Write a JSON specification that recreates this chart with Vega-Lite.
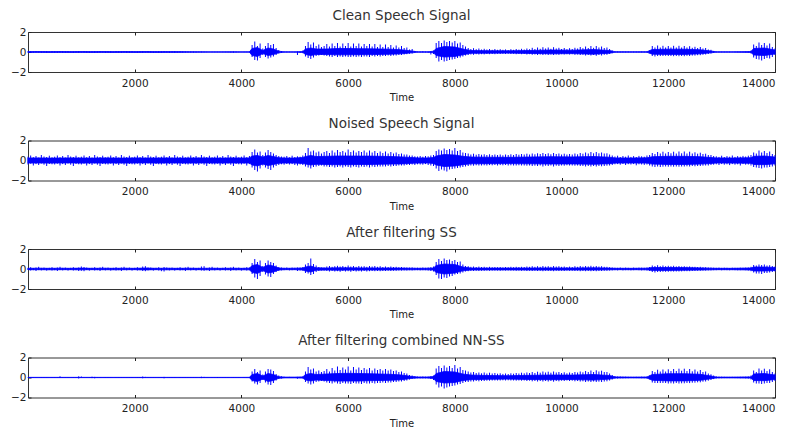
{
"$schema": "https://vega.github.io/schema/vega-lite/v6.json",
"autosize": {"type": "pad"},
"padding": {"left": 10, "top": 8, "right": 0, "bottom": 0},
"background": "white",
"bounds": "flush",
"spacing": 68.5,
"config": {
  "view": {"stroke": "#333", "strokeWidth": 1},
  "font": "DejaVu Sans",
  "axis": {"labelFont": "DejaVu Sans", "labelFontSize": 10.5, "labelColor": "#222", "tickColor": "#222", "tickWidth": 1, "grid": false, "titleFont": "DejaVu Sans", "titleColor": "#222"},
  "title": {"font": "DejaVu Sans", "fontSize": 13.5, "fontWeight": "normal", "color": "#333", "offset": 5, "frame": "group", "baseline": "alphabetic", "anchor": "middle"}
},
"datasets": {
"core": [
{"t":0,"c1":0.04,"c2":-0.04,"n1":0.25,"n2":-0.26,"s1":0.07,"s2":-0.07,"f1":0.015,"f2":-0.015},
{"t":200,"c1":0.05,"c2":-0.04,"n1":0.26,"n2":-0.25,"s1":0.08,"s2":-0.07,"f1":0.015,"f2":-0.015},
{"t":400,"c1":0.04,"c2":-0.05,"n1":0.24,"n2":-0.26,"s1":0.07,"s2":-0.08,"f1":0.015,"f2":-0.015},
{"t":600,"c1":0.05,"c2":-0.04,"n1":0.25,"n2":-0.25,"s1":0.08,"s2":-0.07,"f1":0.015,"f2":-0.015},
{"t":800,"c1":0.04,"c2":-0.05,"n1":0.26,"n2":-0.24,"s1":0.07,"s2":-0.07,"f1":0.015,"f2":-0.015},
{"t":1000,"c1":0.05,"c2":-0.04,"n1":0.25,"n2":-0.26,"s1":0.09,"s2":-0.08,"f1":0.015,"f2":-0.015},
{"t":1200,"c1":0.04,"c2":-0.05,"n1":0.24,"n2":-0.25,"s1":0.07,"s2":-0.07,"f1":0.015,"f2":-0.015},
{"t":1400,"c1":0.05,"c2":-0.04,"n1":0.26,"n2":-0.26,"s1":0.08,"s2":-0.07,"f1":0.015,"f2":-0.015},
{"t":1600,"c1":0.04,"c2":-0.05,"n1":0.25,"n2":-0.25,"s1":0.07,"s2":-0.08,"f1":0.015,"f2":-0.015},
{"t":1800,"c1":0.05,"c2":-0.04,"n1":0.24,"n2":-0.26,"s1":0.08,"s2":-0.07,"f1":0.015,"f2":-0.015},
{"t":2000,"c1":0.04,"c2":-0.05,"n1":0.26,"n2":-0.25,"s1":0.07,"s2":-0.07,"f1":0.015,"f2":-0.015},
{"t":2200,"c1":0.05,"c2":-0.04,"n1":0.25,"n2":-0.24,"s1":0.1,"s2":-0.09,"f1":0.015,"f2":-0.015},
{"t":2400,"c1":0.04,"c2":-0.05,"n1":0.25,"n2":-0.26,"s1":0.07,"s2":-0.07,"f1":0.015,"f2":-0.015},
{"t":2600,"c1":0.04,"c2":-0.04,"n1":0.26,"n2":-0.25,"s1":0.08,"s2":-0.08,"f1":0.015,"f2":-0.015},
{"t":2800,"c1":0.04,"c2":-0.04,"n1":0.24,"n2":-0.25,"s1":0.07,"s2":-0.07,"f1":0.015,"f2":-0.015},
{"t":3000,"c1":0.035,"c2":-0.035,"n1":0.25,"n2":-0.26,"s1":0.08,"s2":-0.07,"f1":0.015,"f2":-0.015},
{"t":3200,"c1":0.03,"c2":-0.03,"n1":0.26,"n2":-0.25,"s1":0.07,"s2":-0.07,"f1":0.015,"f2":-0.015},
{"t":3400,"c1":0.015,"c2":-0.015,"n1":0.25,"n2":-0.25,"s1":0.08,"s2":-0.08,"f1":0.015,"f2":-0.015},
{"t":3600,"c1":0.015,"c2":-0.015,"n1":0.24,"n2":-0.26,"s1":0.07,"s2":-0.07,"f1":0.015,"f2":-0.015},
{"t":3800,"c1":0.03,"c2":-0.03,"n1":0.26,"n2":-0.25,"s1":0.08,"s2":-0.07,"f1":0.015,"f2":-0.015},
{"t":4000,"c1":0.015,"c2":-0.015,"n1":0.25,"n2":-0.25,"s1":0.07,"s2":-0.08,"f1":0.015,"f2":-0.015},
{"t":4150,"c1":0.02,"c2":-0.02,"n1":0.26,"n2":-0.26,"s1":0.08,"s2":-0.08,"f1":0.02,"f2":-0.02},
{"t":4200,"c1":0.35,"c2":-0.35,"n1":0.45,"n2":-0.45,"s1":0.35,"s2":-0.35,"f1":0.3,"f2":-0.3},
{"t":4300,"c1":0.45,"c2":-0.45,"n1":0.5,"n2":-0.55,"s1":0.45,"s2":-0.45,"f1":0.4,"f2":-0.4},
{"t":4400,"c1":0.15,"c2":-0.15,"n1":0.35,"n2":-0.35,"s1":0.15,"s2":-0.15,"f1":0.15,"f2":-0.15},
{"t":4500,"c1":0.4,"c2":-0.35,"n1":0.5,"n2":-0.5,"s1":0.4,"s2":-0.4,"f1":0.4,"f2":-0.4},
{"t":4600,"c1":0.3,"c2":-0.25,"n1":0.4,"n2":-0.4,"s1":0.3,"s2":-0.3,"f1":0.3,"f2":-0.3},
{"t":4700,"c1":0.08,"c2":-0.08,"n1":0.28,"n2":-0.28,"s1":0.1,"s2":-0.1,"f1":0.08,"f2":-0.08},
{"t":4800,"c1":0.015,"c2":-0.015,"n1":0.25,"n2":-0.25,"s1":0.07,"s2":-0.07,"f1":0.04,"f2":-0.04},
{"t":5000,"c1":0.015,"c2":-0.015,"n1":0.25,"n2":-0.26,"s1":0.08,"s2":-0.07,"f1":0.04,"f2":-0.04},
{"t":5150,"c1":0.04,"c2":-0.04,"n1":0.3,"n2":-0.3,"s1":0.1,"s2":-0.1,"f1":0.06,"f2":-0.06},
{"t":5200,"c1":0.3,"c2":-0.25,"n1":0.4,"n2":-0.35,"s1":0.2,"s2":-0.2,"f1":0.3,"f2":-0.25},
{"t":5300,"c1":0.4,"c2":-0.35,"n1":0.5,"n2":-0.45,"s1":0.3,"s2":-0.3,"f1":0.4,"f2":-0.35},
{"t":5400,"c1":0.3,"c2":-0.25,"n1":0.4,"n2":-0.38,"s1":0.12,"s2":-0.12,"f1":0.3,"f2":-0.25},
{"t":5600,"c1":0.3,"c2":-0.25,"n1":0.42,"n2":-0.4,"s1":0.1,"s2":-0.1,"f1":0.35,"f2":-0.3},
{"t":5800,"c1":0.35,"c2":-0.28,"n1":0.45,"n2":-0.42,"s1":0.12,"s2":-0.12,"f1":0.4,"f2":-0.35},
{"t":6000,"c1":0.35,"c2":-0.28,"n1":0.45,"n2":-0.42,"s1":0.12,"s2":-0.11,"f1":0.42,"f2":-0.35},
{"t":6200,"c1":0.33,"c2":-0.27,"n1":0.44,"n2":-0.4,"s1":0.11,"s2":-0.11,"f1":0.4,"f2":-0.35},
{"t":6400,"c1":0.32,"c2":-0.26,"n1":0.44,"n2":-0.4,"s1":0.11,"s2":-0.1,"f1":0.38,"f2":-0.32},
{"t":6600,"c1":0.3,"c2":-0.24,"n1":0.42,"n2":-0.38,"s1":0.1,"s2":-0.1,"f1":0.35,"f2":-0.3},
{"t":6800,"c1":0.28,"c2":-0.22,"n1":0.4,"n2":-0.36,"s1":0.1,"s2":-0.09,"f1":0.32,"f2":-0.28},
{"t":7000,"c1":0.22,"c2":-0.18,"n1":0.36,"n2":-0.34,"s1":0.09,"s2":-0.08,"f1":0.25,"f2":-0.22},
{"t":7200,"c1":0.1,"c2":-0.08,"n1":0.3,"n2":-0.28,"s1":0.08,"s2":-0.08,"f1":0.1,"f2":-0.08},
{"t":7300,"c1":0.02,"c2":-0.02,"n1":0.26,"n2":-0.26,"s1":0.07,"s2":-0.07,"f1":0.05,"f2":-0.05},
{"t":7500,"c1":0.02,"c2":-0.02,"n1":0.26,"n2":-0.25,"s1":0.08,"s2":-0.08,"f1":0.05,"f2":-0.05},
{"t":7600,"c1":0.08,"c2":-0.08,"n1":0.3,"n2":-0.3,"s1":0.1,"s2":-0.1,"f1":0.1,"f2":-0.1},
{"t":7650,"c1":0.35,"c2":-0.35,"n1":0.45,"n2":-0.45,"s1":0.35,"s2":-0.35,"f1":0.4,"f2":-0.4},
{"t":7800,"c1":0.55,"c2":-0.5,"n1":0.6,"n2":-0.6,"s1":0.5,"s2":-0.5,"f1":0.6,"f2":-0.55},
{"t":8000,"c1":0.5,"c2":-0.45,"n1":0.55,"n2":-0.55,"s1":0.45,"s2":-0.4,"f1":0.55,"f2":-0.5},
{"t":8150,"c1":0.3,"c2":-0.28,"n1":0.42,"n2":-0.42,"s1":0.2,"s2":-0.18,"f1":0.35,"f2":-0.3},
{"t":8300,"c1":0.15,"c2":-0.13,"n1":0.35,"n2":-0.33,"s1":0.1,"s2":-0.1,"f1":0.25,"f2":-0.22},
{"t":8600,"c1":0.13,"c2":-0.12,"n1":0.33,"n2":-0.32,"s1":0.09,"s2":-0.09,"f1":0.2,"f2":-0.18},
{"t":9000,"c1":0.12,"c2":-0.11,"n1":0.32,"n2":-0.31,"s1":0.09,"s2":-0.09,"f1":0.18,"f2":-0.16},
{"t":9400,"c1":0.15,"c2":-0.14,"n1":0.35,"n2":-0.33,"s1":0.1,"s2":-0.1,"f1":0.22,"f2":-0.2},
{"t":9800,"c1":0.2,"c2":-0.18,"n1":0.38,"n2":-0.35,"s1":0.11,"s2":-0.1,"f1":0.25,"f2":-0.22},
{"t":10200,"c1":0.18,"c2":-0.16,"n1":0.36,"n2":-0.34,"s1":0.1,"s2":-0.1,"f1":0.24,"f2":-0.2},
{"t":10600,"c1":0.25,"c2":-0.22,"n1":0.4,"n2":-0.38,"s1":0.12,"s2":-0.1,"f1":0.3,"f2":-0.26},
{"t":10900,"c1":0.15,"c2":-0.12,"n1":0.33,"n2":-0.32,"s1":0.09,"s2":-0.08,"f1":0.2,"f2":-0.16},
{"t":11000,"c1":0.03,"c2":-0.03,"n1":0.26,"n2":-0.26,"s1":0.07,"s2":-0.07,"f1":0.06,"f2":-0.05},
{"t":11300,"c1":0.02,"c2":-0.02,"n1":0.25,"n2":-0.25,"s1":0.07,"s2":-0.07,"f1":0.04,"f2":-0.04},
{"t":11600,"c1":0.03,"c2":-0.03,"n1":0.27,"n2":-0.26,"s1":0.08,"s2":-0.08,"f1":0.05,"f2":-0.05},
{"t":11700,"c1":0.25,"c2":-0.22,"n1":0.38,"n2":-0.36,"s1":0.15,"s2":-0.14,"f1":0.3,"f2":-0.28},
{"t":12000,"c1":0.28,"c2":-0.24,"n1":0.42,"n2":-0.4,"s1":0.15,"s2":-0.14,"f1":0.38,"f2":-0.34},
{"t":12300,"c1":0.28,"c2":-0.24,"n1":0.42,"n2":-0.4,"s1":0.14,"s2":-0.12,"f1":0.38,"f2":-0.34},
{"t":12600,"c1":0.22,"c2":-0.18,"n1":0.38,"n2":-0.36,"s1":0.11,"s2":-0.1,"f1":0.32,"f2":-0.28},
{"t":12800,"c1":0.1,"c2":-0.08,"n1":0.3,"n2":-0.3,"s1":0.08,"s2":-0.08,"f1":0.15,"f2":-0.12},
{"t":12900,"c1":0.02,"c2":-0.02,"n1":0.26,"n2":-0.25,"s1":0.07,"s2":-0.07,"f1":0.04,"f2":-0.04},
{"t":13200,"c1":0.015,"c2":-0.015,"n1":0.25,"n2":-0.26,"s1":0.07,"s2":-0.07,"f1":0.04,"f2":-0.04},
{"t":13550,"c1":0.05,"c2":-0.05,"n1":0.28,"n2":-0.28,"s1":0.1,"s2":-0.1,"f1":0.06,"f2":-0.06},
{"t":13600,"c1":0.35,"c2":-0.3,"n1":0.42,"n2":-0.4,"s1":0.2,"s2":-0.2,"f1":0.35,"f2":-0.3},
{"t":13800,"c1":0.4,"c2":-0.35,"n1":0.45,"n2":-0.42,"s1":0.2,"s2":-0.2,"f1":0.4,"f2":-0.32},
{"t":14000,"c1":0.2,"c2":-0.2,"n1":0.35,"n2":-0.33,"s1":0.15,"s2":-0.15,"f1":0.25,"f2":-0.2}
],
"sig": [
{"t":0,"ch":0.07,"cl":-0.06,"nh":0.38,"nl":-0.4,"sh":0.12,"sl":-0.1,"fh":0.02,"fl":-0.02},
{"t":50,"ch":0.08,"cl":-0.08,"nh":0.5,"nl":-0.32,"sh":0.18,"sl":-0.15,"fh":0.02,"fl":-0.02},
{"t":100,"ch":0.06,"cl":-0.07,"nh":0.33,"nl":-0.5,"sh":0.1,"sl":-0.12,"fh":0.02,"fl":-0.02},
{"t":150,"ch":0.09,"cl":-0.05,"nh":0.45,"nl":-0.36,"sh":0.15,"sl":-0.2,"fh":0.02,"fl":-0.02},
{"t":200,"ch":0.07,"cl":-0.07,"nh":0.3,"nl":-0.45,"sh":0.22,"sl":-0.11,"fh":0.02,"fl":-0.02},
{"t":250,"ch":0.05,"cl":-0.08,"nh":0.55,"nl":-0.3,"sh":0.11,"sl":-0.14,"fh":0.02,"fl":-0.02},
{"t":300,"ch":0.07,"cl":-0.06,"nh":0.4,"nl":-0.42,"sh":0.14,"sl":-0.1,"fh":0.02,"fl":-0.02},
{"t":350,"ch":0.08,"cl":-0.08,"nh":0.35,"nl":-0.55,"sh":0.1,"sl":-0.16,"fh":0.02,"fl":-0.02},
{"t":400,"ch":0.06,"cl":-0.07,"nh":0.48,"nl":-0.35,"sh":0.12,"sl":-0.1,"fh":0.02,"fl":-0.02},
{"t":450,"ch":0.09,"cl":-0.05,"nh":0.32,"nl":-0.38,"sh":0.18,"sl":-0.15,"fh":0.02,"fl":-0.02},
{"t":500,"ch":0.07,"cl":-0.07,"nh":0.38,"nl":-0.4,"sh":0.1,"sl":-0.12,"fh":0.02,"fl":-0.02},
{"t":550,"ch":0.05,"cl":-0.08,"nh":0.5,"nl":-0.32,"sh":0.15,"sl":-0.2,"fh":0.02,"fl":-0.02},
{"t":600,"ch":0.07,"cl":-0.06,"nh":0.33,"nl":-0.5,"sh":0.22,"sl":-0.11,"fh":0.12,"fl":-0.03},
{"t":650,"ch":0.08,"cl":-0.08,"nh":0.45,"nl":-0.36,"sh":0.11,"sl":-0.14,"fh":0.02,"fl":-0.02},
{"t":700,"ch":0.06,"cl":-0.07,"nh":0.3,"nl":-0.45,"sh":0.14,"sl":-0.1,"fh":0.02,"fl":-0.02},
{"t":750,"ch":0.09,"cl":-0.05,"nh":0.55,"nl":-0.3,"sh":0.1,"sl":-0.16,"fh":0.02,"fl":-0.02},
{"t":800,"ch":0.07,"cl":-0.07,"nh":0.4,"nl":-0.42,"sh":0.12,"sl":-0.1,"fh":0.02,"fl":-0.02},
{"t":850,"ch":0.05,"cl":-0.08,"nh":0.35,"nl":-0.55,"sh":0.18,"sl":-0.15,"fh":0.02,"fl":-0.02},
{"t":900,"ch":0.07,"cl":-0.06,"nh":0.48,"nl":-0.35,"sh":0.1,"sl":-0.12,"fh":0.02,"fl":-0.02},
{"t":950,"ch":0.08,"cl":-0.08,"nh":0.32,"nl":-0.38,"sh":0.15,"sl":-0.2,"fh":0.12,"fl":-0.1},
{"t":1000,"ch":0.06,"cl":-0.07,"nh":0.38,"nl":-0.4,"sh":0.25,"sl":-0.18,"fh":0.1,"fl":-0.04},
{"t":1050,"ch":0.09,"cl":-0.05,"nh":0.5,"nl":-0.32,"sh":0.2,"sl":-0.22,"fh":0.02,"fl":-0.02},
{"t":1100,"ch":0.07,"cl":-0.07,"nh":0.33,"nl":-0.5,"sh":0.14,"sl":-0.1,"fh":0.02,"fl":-0.02},
{"t":1150,"ch":0.05,"cl":-0.08,"nh":0.45,"nl":-0.36,"sh":0.1,"sl":-0.16,"fh":0.02,"fl":-0.02},
{"t":1200,"ch":0.07,"cl":-0.06,"nh":0.3,"nl":-0.45,"sh":0.12,"sl":-0.1,"fh":0.08,"fl":-0.06},
{"t":1250,"ch":0.08,"cl":-0.08,"nh":0.55,"nl":-0.3,"sh":0.18,"sl":-0.15,"fh":0.06,"fl":-0.08},
{"t":1300,"ch":0.06,"cl":-0.07,"nh":0.4,"nl":-0.42,"sh":0.1,"sl":-0.12,"fh":0.02,"fl":-0.02},
{"t":1350,"ch":0.09,"cl":-0.05,"nh":0.35,"nl":-0.55,"sh":0.15,"sl":-0.2,"fh":0.02,"fl":-0.02},
{"t":1400,"ch":0.07,"cl":-0.07,"nh":0.48,"nl":-0.35,"sh":0.22,"sl":-0.11,"fh":0.02,"fl":-0.02},
{"t":1450,"ch":0.05,"cl":-0.08,"nh":0.32,"nl":-0.38,"sh":0.11,"sl":-0.14,"fh":0.02,"fl":-0.02},
{"t":1500,"ch":0.07,"cl":-0.06,"nh":0.38,"nl":-0.4,"sh":0.14,"sl":-0.1,"fh":0.02,"fl":-0.02},
{"t":1550,"ch":0.08,"cl":-0.08,"nh":0.5,"nl":-0.32,"sh":0.1,"sl":-0.16,"fh":0.02,"fl":-0.02},
{"t":1600,"ch":0.06,"cl":-0.07,"nh":0.33,"nl":-0.5,"sh":0.12,"sl":-0.1,"fh":0.02,"fl":-0.02},
{"t":1650,"ch":0.09,"cl":-0.05,"nh":0.45,"nl":-0.36,"sh":0.18,"sl":-0.15,"fh":0.02,"fl":-0.02},
{"t":1700,"ch":0.07,"cl":-0.07,"nh":0.3,"nl":-0.45,"sh":0.1,"sl":-0.12,"fh":0.02,"fl":-0.02},
{"t":1750,"ch":0.05,"cl":-0.08,"nh":0.55,"nl":-0.3,"sh":0.15,"sl":-0.2,"fh":0.02,"fl":-0.02},
{"t":1800,"ch":0.07,"cl":-0.06,"nh":0.4,"nl":-0.42,"sh":0.22,"sl":-0.11,"fh":0.02,"fl":-0.02},
{"t":1850,"ch":0.08,"cl":-0.08,"nh":0.35,"nl":-0.55,"sh":0.11,"sl":-0.14,"fh":0.02,"fl":-0.02},
{"t":1900,"ch":0.06,"cl":-0.07,"nh":0.48,"nl":-0.35,"sh":0.14,"sl":-0.1,"fh":0.02,"fl":-0.02},
{"t":1950,"ch":0.09,"cl":-0.05,"nh":0.32,"nl":-0.38,"sh":0.1,"sl":-0.16,"fh":0.02,"fl":-0.02},
{"t":2000,"ch":0.07,"cl":-0.07,"nh":0.38,"nl":-0.4,"sh":0.12,"sl":-0.1,"fh":0.02,"fl":-0.02},
{"t":2050,"ch":0.05,"cl":-0.08,"nh":0.5,"nl":-0.32,"sh":0.18,"sl":-0.15,"fh":0.02,"fl":-0.02},
{"t":2100,"ch":0.07,"cl":-0.06,"nh":0.33,"nl":-0.5,"sh":0.1,"sl":-0.12,"fh":0.04,"fl":-0.02},
{"t":2150,"ch":0.08,"cl":-0.08,"nh":0.45,"nl":-0.36,"sh":0.25,"sl":-0.2,"fh":0.1,"fl":-0.08},
{"t":2200,"ch":0.06,"cl":-0.07,"nh":0.3,"nl":-0.45,"sh":0.28,"sl":-0.22,"fh":0.06,"fl":-0.04},
{"t":2250,"ch":0.09,"cl":-0.05,"nh":0.55,"nl":-0.3,"sh":0.15,"sl":-0.14,"fh":0.02,"fl":-0.02},
{"t":2300,"ch":0.07,"cl":-0.07,"nh":0.4,"nl":-0.42,"sh":0.14,"sl":-0.1,"fh":0.02,"fl":-0.02},
{"t":2350,"ch":0.05,"cl":-0.08,"nh":0.35,"nl":-0.55,"sh":0.1,"sl":-0.16,"fh":0.02,"fl":-0.02},
{"t":2400,"ch":0.07,"cl":-0.06,"nh":0.48,"nl":-0.35,"sh":0.12,"sl":-0.1,"fh":0.02,"fl":-0.02},
{"t":2450,"ch":0.08,"cl":-0.08,"nh":0.32,"nl":-0.38,"sh":0.18,"sl":-0.15,"fh":0.02,"fl":-0.02},
{"t":2500,"ch":0.06,"cl":-0.07,"nh":0.38,"nl":-0.4,"sh":0.1,"sl":-0.22,"fh":0.02,"fl":-0.02},
{"t":2550,"ch":0.09,"cl":-0.05,"nh":0.5,"nl":-0.32,"sh":0.2,"sl":-0.25,"fh":0.06,"fl":-0.08},
{"t":2600,"ch":0.07,"cl":-0.07,"nh":0.33,"nl":-0.5,"sh":0.15,"sl":-0.11,"fh":0.02,"fl":-0.02},
{"t":2650,"ch":0.05,"cl":-0.08,"nh":0.45,"nl":-0.36,"sh":0.11,"sl":-0.14,"fh":0.02,"fl":-0.02},
{"t":2700,"ch":0.07,"cl":-0.06,"nh":0.3,"nl":-0.45,"sh":0.14,"sl":-0.1,"fh":0.02,"fl":-0.02},
{"t":2750,"ch":0.08,"cl":-0.08,"nh":0.55,"nl":-0.3,"sh":0.1,"sl":-0.16,"fh":0.02,"fl":-0.02},
{"t":2800,"ch":0.06,"cl":-0.07,"nh":0.4,"nl":-0.42,"sh":0.12,"sl":-0.1,"fh":0.02,"fl":-0.02},
{"t":2850,"ch":0.07,"cl":-0.05,"nh":0.35,"nl":-0.55,"sh":0.18,"sl":-0.15,"fh":0.02,"fl":-0.02},
{"t":2900,"ch":0.06,"cl":-0.06,"nh":0.48,"nl":-0.35,"sh":0.1,"sl":-0.12,"fh":0.02,"fl":-0.02},
{"t":2950,"ch":0.05,"cl":-0.05,"nh":0.32,"nl":-0.38,"sh":0.15,"sl":-0.2,"fh":0.02,"fl":-0.02},
{"t":3000,"ch":0.06,"cl":-0.06,"nh":0.38,"nl":-0.4,"sh":0.22,"sl":-0.11,"fh":0.02,"fl":-0.02},
{"t":3050,"ch":0.05,"cl":-0.05,"nh":0.5,"nl":-0.32,"sh":0.11,"sl":-0.14,"fh":0.02,"fl":-0.02},
{"t":3100,"ch":0.05,"cl":-0.06,"nh":0.33,"nl":-0.5,"sh":0.14,"sl":-0.1,"fh":0.02,"fl":-0.02},
{"t":3150,"ch":0.04,"cl":-0.05,"nh":0.45,"nl":-0.36,"sh":0.1,"sl":-0.16,"fh":0.02,"fl":-0.02},
{"t":3200,"ch":0.05,"cl":-0.04,"nh":0.3,"nl":-0.45,"sh":0.12,"sl":-0.1,"fh":0.02,"fl":-0.02},
{"t":3250,"ch":0.04,"cl":-0.04,"nh":0.55,"nl":-0.3,"sh":0.25,"sl":-0.15,"fh":0.08,"fl":-0.06},
{"t":3300,"ch":0.03,"cl":-0.03,"nh":0.4,"nl":-0.42,"sh":0.28,"sl":-0.18,"fh":0.06,"fl":-0.04},
{"t":3350,"ch":0.02,"cl":-0.02,"nh":0.35,"nl":-0.55,"sh":0.1,"sl":-0.12,"fh":0.02,"fl":-0.02},
{"t":3400,"ch":0.02,"cl":-0.02,"nh":0.48,"nl":-0.35,"sh":0.15,"sl":-0.2,"fh":0.02,"fl":-0.02},
{"t":3450,"ch":0.02,"cl":-0.02,"nh":0.32,"nl":-0.38,"sh":0.22,"sl":-0.11,"fh":0.02,"fl":-0.02},
{"t":3500,"ch":0.02,"cl":-0.02,"nh":0.38,"nl":-0.4,"sh":0.11,"sl":-0.14,"fh":0.02,"fl":-0.02},
{"t":3550,"ch":0.02,"cl":-0.02,"nh":0.5,"nl":-0.32,"sh":0.14,"sl":-0.1,"fh":0.05,"fl":-0.05},
{"t":3600,"ch":0.02,"cl":-0.02,"nh":0.33,"nl":-0.5,"sh":0.1,"sl":-0.16,"fh":0.02,"fl":-0.02},
{"t":3650,"ch":0.02,"cl":-0.02,"nh":0.45,"nl":-0.36,"sh":0.12,"sl":-0.1,"fh":0.02,"fl":-0.02},
{"t":3700,"ch":0.02,"cl":-0.02,"nh":0.3,"nl":-0.45,"sh":0.18,"sl":-0.15,"fh":0.02,"fl":-0.02},
{"t":3750,"ch":0.02,"cl":-0.02,"nh":0.55,"nl":-0.3,"sh":0.1,"sl":-0.12,"fh":0.02,"fl":-0.02},
{"t":3800,"ch":0.05,"cl":-0.06,"nh":0.4,"nl":-0.42,"sh":0.15,"sl":-0.2,"fh":0.02,"fl":-0.02},
{"t":3850,"ch":0.06,"cl":-0.07,"nh":0.35,"nl":-0.55,"sh":0.22,"sl":-0.11,"fh":0.02,"fl":-0.02},
{"t":3900,"ch":0.04,"cl":-0.04,"nh":0.48,"nl":-0.35,"sh":0.11,"sl":-0.14,"fh":0.02,"fl":-0.02},
{"t":3950,"ch":0.02,"cl":-0.02,"nh":0.32,"nl":-0.38,"sh":0.14,"sl":-0.1,"fh":0.02,"fl":-0.02},
{"t":4000,"ch":0.02,"cl":-0.02,"nh":0.38,"nl":-0.4,"sh":0.1,"sl":-0.16,"fh":0.02,"fl":-0.02},
{"t":4050,"ch":0.02,"cl":-0.02,"nh":0.5,"nl":-0.32,"sh":0.12,"sl":-0.1,"fh":0.02,"fl":-0.02},
{"t":4100,"ch":0.02,"cl":-0.02,"nh":0.33,"nl":-0.5,"sh":0.18,"sl":-0.15,"fh":0.02,"fl":-0.02},
{"t":4150,"ch":0.05,"cl":-0.05,"nh":0.45,"nl":-0.36,"sh":0.15,"sl":-0.12,"fh":0.05,"fl":-0.05},
{"t":4200,"ch":0.7,"cl":-0.5,"nh":0.85,"nl":-0.7,"sh":0.6,"sl":-0.5,"fh":0.6,"fl":-0.4},
{"t":4250,"ch":1.05,"cl":-0.8,"nh":1.1,"nl":-0.95,"sh":1.0,"sl":-0.85,"fh":0.85,"fl":-0.6},
{"t":4300,"ch":0.6,"cl":-0.85,"nh":0.8,"nl":-1.1,"sh":0.7,"sl":-1.0,"fh":0.55,"fl":-0.7},
{"t":4350,"ch":0.85,"cl":-0.6,"nh":0.9,"nl":-0.8,"sh":0.85,"sl":-0.7,"fh":0.7,"fl":-0.55},
{"t":4400,"ch":0.35,"cl":-0.3,"nh":0.55,"nl":-0.5,"sh":0.3,"sl":-0.3,"fh":0.3,"fl":-0.25},
{"t":4450,"ch":0.6,"cl":-0.5,"nh":0.8,"nl":-0.7,"sh":0.6,"sl":-0.55,"fh":0.6,"fl":-0.5},
{"t":4500,"ch":0.9,"cl":-0.65,"nh":1.05,"nl":-0.85,"sh":0.85,"sl":-0.75,"fh":0.85,"fl":-0.7},
{"t":4550,"ch":0.7,"cl":-0.55,"nh":0.85,"nl":-0.95,"sh":0.7,"sl":-0.8,"fh":0.8,"fl":-0.75},
{"t":4600,"ch":0.8,"cl":-0.45,"nh":0.7,"nl":-0.7,"sh":0.6,"sl":-0.5,"fh":0.65,"fl":-0.55},
{"t":4650,"ch":0.4,"cl":-0.3,"nh":0.55,"nl":-0.55,"sh":0.35,"sl":-0.3,"fh":0.35,"fl":-0.3},
{"t":4700,"ch":0.2,"cl":-0.15,"nh":0.45,"nl":-0.45,"sh":0.2,"sl":-0.2,"fh":0.2,"fl":-0.15},
{"t":4750,"ch":0.1,"cl":-0.08,"nh":0.4,"nl":-0.38,"sh":0.15,"sl":-0.14,"fh":0.12,"fl":-0.1},
{"t":4800,"ch":0.04,"cl":-0.04,"nh":0.38,"nl":-0.42,"sh":0.12,"sl":-0.12,"fh":0.08,"fl":-0.06},
{"t":4850,"ch":0.03,"cl":-0.03,"nh":0.45,"nl":-0.35,"sh":0.15,"sl":-0.1,"fh":0.05,"fl":-0.05},
{"t":4900,"ch":0.02,"cl":-0.02,"nh":0.32,"nl":-0.4,"sh":0.1,"sl":-0.14,"fh":0.06,"fl":-0.04},
{"t":4950,"ch":0.02,"cl":-0.02,"nh":0.48,"nl":-0.36,"sh":0.14,"sl":-0.12,"fh":0.04,"fl":-0.04},
{"t":5000,"ch":0.03,"cl":-0.05,"nh":0.35,"nl":-0.45,"sh":0.12,"sl":-0.1,"fh":0.05,"fl":-0.05},
{"t":5050,"ch":0.05,"cl":-0.3,"nh":0.42,"nl":-0.5,"sh":0.15,"sl":-0.2,"fh":0.06,"fl":-0.12},
{"t":5100,"ch":0.04,"cl":-0.08,"nh":0.38,"nl":-0.4,"sh":0.14,"sl":-0.14,"fh":0.06,"fl":-0.06},
{"t":5150,"ch":0.15,"cl":-0.12,"nh":0.5,"nl":-0.45,"sh":0.2,"sl":-0.18,"fh":0.12,"fl":-0.1},
{"t":5200,"ch":0.6,"cl":-0.45,"nh":0.75,"nl":-0.6,"sh":0.45,"sl":-0.4,"fh":0.6,"fl":-0.45},
{"t":5250,"ch":1.0,"cl":-0.6,"nh":1.25,"nl":-0.7,"sh":0.6,"sl":-0.45,"fh":1.05,"fl":-0.6},
{"t":5300,"ch":0.75,"cl":-0.7,"nh":0.9,"nl":-0.8,"sh":1.05,"sl":-0.6,"fh":0.8,"fl":-0.7},
{"t":5350,"ch":0.95,"cl":-0.55,"nh":1.0,"nl":-0.65,"sh":0.5,"sl":-0.5,"fh":0.9,"fl":-0.6},
{"t":5400,"ch":0.6,"cl":-0.4,"nh":0.8,"nl":-0.6,"sh":0.35,"sl":-0.3,"fh":0.6,"fl":-0.45},
{"t":5450,"ch":0.75,"cl":-0.35,"nh":0.9,"nl":-0.55,"sh":0.2,"sl":-0.2,"fh":0.7,"fl":-0.4},
{"t":5500,"ch":0.5,"cl":-0.3,"nh":0.7,"nl":-0.5,"sh":0.15,"sl":-0.15,"fh":0.55,"fl":-0.35},
{"t":5550,"ch":0.6,"cl":-0.35,"nh":0.85,"nl":-0.6,"sh":0.14,"sl":-0.16,"fh":0.65,"fl":-0.4},
{"t":5600,"ch":0.8,"cl":-0.4,"nh":0.95,"nl":-0.6,"sh":0.25,"sl":-0.2,"fh":0.85,"fl":-0.5},
{"t":5650,"ch":0.55,"cl":-0.45,"nh":0.75,"nl":-0.65,"sh":0.3,"sl":-0.25,"fh":0.6,"fl":-0.55},
{"t":5700,"ch":0.85,"cl":-0.5,"nh":1.0,"nl":-0.6,"sh":0.22,"sl":-0.2,"fh":0.95,"fl":-0.6},
{"t":5750,"ch":0.6,"cl":-0.4,"nh":0.8,"nl":-0.7,"sh":0.28,"sl":-0.25,"fh":0.7,"fl":-0.5},
{"t":5800,"ch":0.9,"cl":-0.5,"nh":1.05,"nl":-0.65,"sh":0.32,"sl":-0.22,"fh":1.1,"fl":-0.6},
{"t":5850,"ch":0.55,"cl":-0.45,"nh":0.85,"nl":-0.6,"sh":0.25,"sl":-0.28,"fh":0.75,"fl":-0.65},
{"t":5900,"ch":0.85,"cl":-0.5,"nh":0.95,"nl":-0.7,"sh":0.3,"sl":-0.2,"fh":1.0,"fl":-0.55},
{"t":5950,"ch":0.6,"cl":-0.45,"nh":0.8,"nl":-0.6,"sh":0.22,"sl":-0.25,"fh":0.8,"fl":-0.6},
{"t":6000,"ch":0.9,"cl":-0.5,"nh":1.1,"nl":-0.65,"sh":0.35,"sl":-0.22,"fh":1.1,"fl":-0.6},
{"t":6050,"ch":0.55,"cl":-0.5,"nh":0.85,"nl":-0.7,"sh":0.25,"sl":-0.28,"fh":0.7,"fl":-0.65},
{"t":6100,"ch":0.85,"cl":-0.45,"nh":1.0,"nl":-0.6,"sh":0.3,"sl":-0.2,"fh":1.05,"fl":-0.55},
{"t":6150,"ch":0.6,"cl":-0.5,"nh":0.8,"nl":-0.65,"sh":0.22,"sl":-0.25,"fh":0.8,"fl":-0.6},
{"t":6200,"ch":0.85,"cl":-0.45,"nh":0.95,"nl":-0.7,"sh":0.3,"sl":-0.22,"fh":1.0,"fl":-0.6},
{"t":6250,"ch":0.55,"cl":-0.5,"nh":0.85,"nl":-0.6,"sh":0.25,"sl":-0.25,"fh":0.75,"fl":-0.65},
{"t":6300,"ch":0.8,"cl":-0.45,"nh":1.0,"nl":-0.65,"sh":0.28,"sl":-0.2,"fh":0.95,"fl":-0.55},
{"t":6350,"ch":0.6,"cl":-0.45,"nh":0.8,"nl":-0.6,"sh":0.22,"sl":-0.25,"fh":0.8,"fl":-0.6},
{"t":6400,"ch":0.8,"cl":-0.5,"nh":1.0,"nl":-0.7,"sh":0.3,"sl":-0.22,"fh":0.95,"fl":-0.6},
{"t":6450,"ch":0.55,"cl":-0.4,"nh":0.8,"nl":-0.6,"sh":0.25,"sl":-0.2,"fh":0.7,"fl":-0.55},
{"t":6500,"ch":0.8,"cl":-0.45,"nh":0.95,"nl":-0.65,"sh":0.3,"sl":-0.22,"fh":0.9,"fl":-0.6},
{"t":6550,"ch":0.5,"cl":-0.4,"nh":0.75,"nl":-0.6,"sh":0.22,"sl":-0.2,"fh":0.75,"fl":-0.55},
{"t":6600,"ch":0.75,"cl":-0.45,"nh":0.9,"nl":-0.6,"sh":0.28,"sl":-0.22,"fh":0.85,"fl":-0.55},
{"t":6650,"ch":0.5,"cl":-0.4,"nh":0.75,"nl":-0.6,"sh":0.2,"sl":-0.2,"fh":0.7,"fl":-0.5},
{"t":6700,"ch":0.75,"cl":-0.4,"nh":0.9,"nl":-0.6,"sh":0.25,"sl":-0.2,"fh":0.85,"fl":-0.55},
{"t":6750,"ch":0.5,"cl":-0.35,"nh":0.7,"nl":-0.55,"sh":0.2,"sl":-0.18,"fh":0.7,"fl":-0.5},
{"t":6800,"ch":0.7,"cl":-0.4,"nh":0.85,"nl":-0.6,"sh":0.25,"sl":-0.2,"fh":0.8,"fl":-0.5},
{"t":6850,"ch":0.45,"cl":-0.35,"nh":0.7,"nl":-0.55,"sh":0.2,"sl":-0.18,"fh":0.65,"fl":-0.45},
{"t":6900,"ch":0.65,"cl":-0.35,"nh":0.8,"nl":-0.55,"sh":0.22,"sl":-0.18,"fh":0.7,"fl":-0.45},
{"t":6950,"ch":0.45,"cl":-0.3,"nh":0.65,"nl":-0.5,"sh":0.18,"sl":-0.15,"fh":0.55,"fl":-0.4},
{"t":7000,"ch":0.6,"cl":-0.3,"nh":0.7,"nl":-0.5,"sh":0.2,"sl":-0.16,"fh":0.6,"fl":-0.4},
{"t":7050,"ch":0.4,"cl":-0.25,"nh":0.6,"nl":-0.5,"sh":0.16,"sl":-0.14,"fh":0.45,"fl":-0.35},
{"t":7100,"ch":0.45,"cl":-0.22,"nh":0.6,"nl":-0.45,"sh":0.15,"sl":-0.15,"fh":0.4,"fl":-0.3},
{"t":7150,"ch":0.25,"cl":-0.18,"nh":0.5,"nl":-0.45,"sh":0.14,"sl":-0.12,"fh":0.25,"fl":-0.2},
{"t":7200,"ch":0.3,"cl":-0.15,"nh":0.5,"nl":-0.4,"sh":0.16,"sl":-0.14,"fh":0.2,"fl":-0.15},
{"t":7250,"ch":0.1,"cl":-0.08,"nh":0.42,"nl":-0.45,"sh":0.12,"sl":-0.12,"fh":0.12,"fl":-0.1},
{"t":7300,"ch":0.05,"cl":-0.04,"nh":0.4,"nl":-0.38,"sh":0.13,"sl":-0.12,"fh":0.1,"fl":-0.08},
{"t":7350,"ch":0.04,"cl":-0.04,"nh":0.45,"nl":-0.4,"sh":0.12,"sl":-0.14,"fh":0.08,"fl":-0.08},
{"t":7400,"ch":0.08,"cl":-0.05,"nh":0.38,"nl":-0.42,"sh":0.15,"sl":-0.12,"fh":0.1,"fl":-0.08},
{"t":7450,"ch":0.04,"cl":-0.04,"nh":0.45,"nl":-0.36,"sh":0.12,"sl":-0.12,"fh":0.08,"fl":-0.08},
{"t":7500,"ch":0.05,"cl":-0.08,"nh":0.42,"nl":-0.45,"sh":0.15,"sl":-0.15,"fh":0.1,"fl":-0.1},
{"t":7550,"ch":0.06,"cl":-0.25,"nh":0.5,"nl":-0.5,"sh":0.18,"sl":-0.2,"fh":0.12,"fl":-0.15},
{"t":7600,"ch":0.15,"cl":-0.2,"nh":0.55,"nl":-0.55,"sh":0.25,"sl":-0.25,"fh":0.2,"fl":-0.25},
{"t":7650,"ch":0.9,"cl":-0.6,"nh":0.95,"nl":-0.8,"sh":0.7,"sl":-0.6,"fh":0.9,"fl":-0.7},
{"t":7700,"ch":1.1,"cl":-0.95,"nh":1.1,"nl":-1.05,"sh":1.0,"sl":-0.95,"fh":1.15,"fl":-1.0},
{"t":7750,"ch":0.9,"cl":-0.8,"nh":1.0,"nl":-0.9,"sh":0.8,"sl":-1.0,"fh":0.95,"fl":-0.9},
{"t":7800,"ch":1.15,"cl":-0.95,"nh":1.2,"nl":-1.0,"sh":1.05,"sl":-0.85,"fh":1.2,"fl":-1.1},
{"t":7850,"ch":1.0,"cl":-0.9,"nh":1.05,"nl":-1.1,"sh":0.9,"sl":-0.9,"fh":1.0,"fl":-1.0},
{"t":7900,"ch":1.1,"cl":-0.8,"nh":1.15,"nl":-0.9,"sh":0.95,"sl":-0.75,"fh":1.15,"fl":-0.9},
{"t":7950,"ch":0.95,"cl":-0.75,"nh":1.0,"nl":-0.85,"sh":0.8,"sl":-0.7,"fh":0.95,"fl":-0.85},
{"t":8000,"ch":1.1,"cl":-0.7,"nh":1.25,"nl":-0.8,"sh":0.9,"sl":-0.55,"fh":1.25,"fl":-0.8},
{"t":8050,"ch":0.85,"cl":-0.6,"nh":0.95,"nl":-0.75,"sh":0.7,"sl":-0.5,"fh":0.9,"fl":-0.7},
{"t":8100,"ch":0.95,"cl":-0.55,"nh":1.05,"nl":-0.7,"sh":0.75,"sl":-0.45,"fh":1.05,"fl":-0.65},
{"t":8150,"ch":0.7,"cl":-0.45,"nh":0.8,"nl":-0.65,"sh":0.45,"sl":-0.35,"fh":0.75,"fl":-0.55},
{"t":8200,"ch":0.55,"cl":-0.35,"nh":0.75,"nl":-0.6,"sh":0.3,"sl":-0.25,"fh":0.7,"fl":-0.45},
{"t":8250,"ch":0.4,"cl":-0.3,"nh":0.7,"nl":-0.55,"sh":0.28,"sl":-0.22,"fh":0.6,"fl":-0.45},
{"t":8300,"ch":0.3,"cl":-0.25,"nh":0.6,"nl":-0.5,"sh":0.22,"sl":-0.2,"fh":0.5,"fl":-0.4},
{"t":8350,"ch":0.38,"cl":-0.28,"nh":0.68,"nl":-0.52,"sh":0.25,"sl":-0.2,"fh":0.55,"fl":-0.4},
{"t":8400,"ch":0.28,"cl":-0.22,"nh":0.58,"nl":-0.48,"sh":0.2,"sl":-0.18,"fh":0.45,"fl":-0.35},
{"t":8450,"ch":0.35,"cl":-0.25,"nh":0.65,"nl":-0.5,"sh":0.24,"sl":-0.2,"fh":0.5,"fl":-0.38},
{"t":8500,"ch":0.25,"cl":-0.22,"nh":0.58,"nl":-0.5,"sh":0.2,"sl":-0.18,"fh":0.42,"fl":-0.35},
{"t":8550,"ch":0.32,"cl":-0.24,"nh":0.62,"nl":-0.48,"sh":0.22,"sl":-0.18,"fh":0.5,"fl":-0.35},
{"t":8600,"ch":0.25,"cl":-0.2,"nh":0.55,"nl":-0.5,"sh":0.18,"sl":-0.16,"fh":0.4,"fl":-0.32},
{"t":8650,"ch":0.3,"cl":-0.22,"nh":0.62,"nl":-0.46,"sh":0.22,"sl":-0.18,"fh":0.48,"fl":-0.32},
{"t":8700,"ch":0.22,"cl":-0.2,"nh":0.55,"nl":-0.48,"sh":0.18,"sl":-0.16,"fh":0.4,"fl":-0.3},
{"t":8750,"ch":0.3,"cl":-0.22,"nh":0.6,"nl":-0.45,"sh":0.2,"sl":-0.16,"fh":0.45,"fl":-0.3},
{"t":8800,"ch":0.22,"cl":-0.18,"nh":0.55,"nl":-0.5,"sh":0.18,"sl":-0.16,"fh":0.38,"fl":-0.3},
{"t":8850,"ch":0.28,"cl":-0.2,"nh":0.6,"nl":-0.46,"sh":0.2,"sl":-0.18,"fh":0.42,"fl":-0.3},
{"t":8900,"ch":0.22,"cl":-0.18,"nh":0.52,"nl":-0.48,"sh":0.16,"sl":-0.15,"fh":0.36,"fl":-0.28},
{"t":8950,"ch":0.26,"cl":-0.2,"nh":0.6,"nl":-0.45,"sh":0.2,"sl":-0.16,"fh":0.4,"fl":-0.3},
{"t":9000,"ch":0.2,"cl":-0.18,"nh":0.55,"nl":-0.5,"sh":0.18,"sl":-0.15,"fh":0.35,"fl":-0.28},
{"t":9050,"ch":0.28,"cl":-0.2,"nh":0.62,"nl":-0.48,"sh":0.22,"sl":-0.16,"fh":0.42,"fl":-0.3},
{"t":9100,"ch":0.22,"cl":-0.18,"nh":0.55,"nl":-0.5,"sh":0.18,"sl":-0.15,"fh":0.38,"fl":-0.3},
{"t":9150,"ch":0.3,"cl":-0.22,"nh":0.65,"nl":-0.5,"sh":0.22,"sl":-0.18,"fh":0.45,"fl":-0.32},
{"t":9200,"ch":0.24,"cl":-0.2,"nh":0.58,"nl":-0.48,"sh":0.2,"sl":-0.16,"fh":0.4,"fl":-0.3},
{"t":9250,"ch":0.32,"cl":-0.22,"nh":0.65,"nl":-0.5,"sh":0.22,"sl":-0.18,"fh":0.48,"fl":-0.32},
{"t":9300,"ch":0.25,"cl":-0.2,"nh":0.6,"nl":-0.5,"sh":0.2,"sl":-0.16,"fh":0.42,"fl":-0.3},
{"t":9350,"ch":0.35,"cl":-0.25,"nh":0.68,"nl":-0.52,"sh":0.25,"sl":-0.2,"fh":0.5,"fl":-0.35},
{"t":9400,"ch":0.28,"cl":-0.22,"nh":0.6,"nl":-0.5,"sh":0.22,"sl":-0.18,"fh":0.45,"fl":-0.32},
{"t":9450,"ch":0.42,"cl":-0.28,"nh":0.7,"nl":-0.55,"sh":0.28,"sl":-0.2,"fh":0.55,"fl":-0.38},
{"t":9500,"ch":0.3,"cl":-0.25,"nh":0.62,"nl":-0.52,"sh":0.22,"sl":-0.18,"fh":0.45,"fl":-0.35},
{"t":9550,"ch":0.45,"cl":-0.3,"nh":0.72,"nl":-0.55,"sh":0.28,"sl":-0.2,"fh":0.58,"fl":-0.4},
{"t":9600,"ch":0.32,"cl":-0.25,"nh":0.65,"nl":-0.5,"sh":0.22,"sl":-0.18,"fh":0.48,"fl":-0.35},
{"t":9650,"ch":0.48,"cl":-0.3,"nh":0.75,"nl":-0.6,"sh":0.3,"sl":-0.22,"fh":0.6,"fl":-0.4},
{"t":9700,"ch":0.35,"cl":-0.25,"nh":0.65,"nl":-0.52,"sh":0.24,"sl":-0.18,"fh":0.5,"fl":-0.35},
{"t":9750,"ch":0.45,"cl":-0.3,"nh":0.72,"nl":-0.55,"sh":0.28,"sl":-0.2,"fh":0.58,"fl":-0.4},
{"t":9800,"ch":0.32,"cl":-0.25,"nh":0.62,"nl":-0.5,"sh":0.22,"sl":-0.2,"fh":0.48,"fl":-0.35},
{"t":9850,"ch":0.48,"cl":-0.3,"nh":0.75,"nl":-0.6,"sh":0.3,"sl":-0.22,"fh":0.6,"fl":-0.42},
{"t":9900,"ch":0.35,"cl":-0.25,"nh":0.65,"nl":-0.52,"sh":0.25,"sl":-0.18,"fh":0.5,"fl":-0.35},
{"t":9950,"ch":0.42,"cl":-0.28,"nh":0.7,"nl":-0.55,"sh":0.28,"sl":-0.2,"fh":0.55,"fl":-0.38},
{"t":10000,"ch":0.3,"cl":-0.22,"nh":0.6,"nl":-0.5,"sh":0.22,"sl":-0.18,"fh":0.45,"fl":-0.32},
{"t":10050,"ch":0.4,"cl":-0.25,"nh":0.68,"nl":-0.52,"sh":0.25,"sl":-0.2,"fh":0.52,"fl":-0.35},
{"t":10100,"ch":0.28,"cl":-0.22,"nh":0.6,"nl":-0.48,"sh":0.2,"sl":-0.16,"fh":0.42,"fl":-0.3},
{"t":10150,"ch":0.38,"cl":-0.25,"nh":0.65,"nl":-0.5,"sh":0.24,"sl":-0.18,"fh":0.5,"fl":-0.35},
{"t":10200,"ch":0.3,"cl":-0.22,"nh":0.6,"nl":-0.5,"sh":0.2,"sl":-0.18,"fh":0.45,"fl":-0.32},
{"t":10250,"ch":0.42,"cl":-0.28,"nh":0.7,"nl":-0.52,"sh":0.28,"sl":-0.2,"fh":0.55,"fl":-0.38},
{"t":10300,"ch":0.35,"cl":-0.25,"nh":0.62,"nl":-0.5,"sh":0.22,"sl":-0.18,"fh":0.5,"fl":-0.35},
{"t":10350,"ch":0.5,"cl":-0.3,"nh":0.75,"nl":-0.55,"sh":0.3,"sl":-0.22,"fh":0.6,"fl":-0.4},
{"t":10400,"ch":0.38,"cl":-0.28,"nh":0.68,"nl":-0.55,"sh":0.24,"sl":-0.2,"fh":0.52,"fl":-0.38},
{"t":10450,"ch":0.55,"cl":-0.35,"nh":0.8,"nl":-0.6,"sh":0.3,"sl":-0.22,"fh":0.65,"fl":-0.45},
{"t":10500,"ch":0.4,"cl":-0.3,"nh":0.7,"nl":-0.55,"sh":0.26,"sl":-0.2,"fh":0.55,"fl":-0.4},
{"t":10550,"ch":0.6,"cl":-0.35,"nh":0.85,"nl":-0.6,"sh":0.32,"sl":-0.22,"fh":0.7,"fl":-0.45},
{"t":10600,"ch":0.42,"cl":-0.3,"nh":0.72,"nl":-0.55,"sh":0.25,"sl":-0.2,"fh":0.55,"fl":-0.4},
{"t":10650,"ch":0.6,"cl":-0.38,"nh":0.85,"nl":-0.6,"sh":0.3,"sl":-0.22,"fh":0.72,"fl":-0.45},
{"t":10700,"ch":0.45,"cl":-0.3,"nh":0.72,"nl":-0.55,"sh":0.25,"sl":-0.2,"fh":0.6,"fl":-0.42},
{"t":10750,"ch":0.55,"cl":-0.35,"nh":0.8,"nl":-0.58,"sh":0.28,"sl":-0.2,"fh":0.68,"fl":-0.45},
{"t":10800,"ch":0.4,"cl":-0.28,"nh":0.7,"nl":-0.55,"sh":0.22,"sl":-0.18,"fh":0.55,"fl":-0.4},
{"t":10850,"ch":0.45,"cl":-0.28,"nh":0.72,"nl":-0.52,"sh":0.22,"sl":-0.18,"fh":0.55,"fl":-0.38},
{"t":10900,"ch":0.3,"cl":-0.2,"nh":0.6,"nl":-0.5,"sh":0.18,"sl":-0.16,"fh":0.4,"fl":-0.3},
{"t":10950,"ch":0.15,"cl":-0.12,"nh":0.5,"nl":-0.45,"sh":0.15,"sl":-0.14,"fh":0.25,"fl":-0.2},
{"t":11000,"ch":0.06,"cl":-0.05,"nh":0.4,"nl":-0.38,"sh":0.13,"sl":-0.12,"fh":0.15,"fl":-0.12},
{"t":11050,"ch":0.05,"cl":-0.04,"nh":0.48,"nl":-0.36,"sh":0.12,"sl":-0.14,"fh":0.1,"fl":-0.1},
{"t":11100,"ch":0.04,"cl":-0.04,"nh":0.35,"nl":-0.42,"sh":0.15,"sl":-0.1,"fh":0.1,"fl":-0.08},
{"t":11150,"ch":0.05,"cl":-0.04,"nh":0.45,"nl":-0.35,"sh":0.11,"sl":-0.14,"fh":0.08,"fl":-0.08},
{"t":11200,"ch":0.04,"cl":-0.04,"nh":0.38,"nl":-0.45,"sh":0.14,"sl":-0.12,"fh":0.08,"fl":-0.07},
{"t":11250,"ch":0.05,"cl":-0.04,"nh":0.5,"nl":-0.37,"sh":0.12,"sl":-0.12,"fh":0.07,"fl":-0.07},
{"t":11300,"ch":0.04,"cl":-0.04,"nh":0.36,"nl":-0.4,"sh":0.1,"sl":-0.14,"fh":0.07,"fl":-0.06},
{"t":11350,"ch":0.04,"cl":-0.04,"nh":0.44,"nl":-0.36,"sh":0.14,"sl":-0.12,"fh":0.06,"fl":-0.06},
{"t":11400,"ch":0.04,"cl":-0.04,"nh":0.35,"nl":-0.48,"sh":0.11,"sl":-0.1,"fh":0.07,"fl":-0.06},
{"t":11450,"ch":0.04,"cl":-0.04,"nh":0.46,"nl":-0.38,"sh":0.14,"sl":-0.12,"fh":0.06,"fl":-0.06},
{"t":11500,"ch":0.05,"cl":-0.04,"nh":0.42,"nl":-0.4,"sh":0.13,"sl":-0.14,"fh":0.08,"fl":-0.07},
{"t":11550,"ch":0.04,"cl":-0.04,"nh":0.38,"nl":-0.44,"sh":0.12,"sl":-0.12,"fh":0.07,"fl":-0.07},
{"t":11600,"ch":0.06,"cl":-0.05,"nh":0.5,"nl":-0.4,"sh":0.15,"sl":-0.15,"fh":0.1,"fl":-0.1},
{"t":11650,"ch":0.15,"cl":-0.12,"nh":0.55,"nl":-0.5,"sh":0.2,"sl":-0.2,"fh":0.2,"fl":-0.18},
{"t":11700,"ch":0.6,"cl":-0.4,"nh":0.75,"nl":-0.6,"sh":0.35,"sl":-0.3,"fh":0.65,"fl":-0.5},
{"t":11750,"ch":0.45,"cl":-0.45,"nh":0.65,"nl":-0.65,"sh":0.3,"sl":-0.35,"fh":0.55,"fl":-0.55},
{"t":11800,"ch":0.65,"cl":-0.4,"nh":0.85,"nl":-0.6,"sh":0.38,"sl":-0.3,"fh":0.78,"fl":-0.55},
{"t":11850,"ch":0.45,"cl":-0.4,"nh":0.7,"nl":-0.65,"sh":0.28,"sl":-0.3,"fh":0.6,"fl":-0.55},
{"t":11900,"ch":0.62,"cl":-0.4,"nh":0.88,"nl":-0.62,"sh":0.35,"sl":-0.28,"fh":0.8,"fl":-0.55},
{"t":11950,"ch":0.45,"cl":-0.38,"nh":0.7,"nl":-0.6,"sh":0.28,"sl":-0.28,"fh":0.6,"fl":-0.55},
{"t":12000,"ch":0.6,"cl":-0.4,"nh":0.85,"nl":-0.62,"sh":0.32,"sl":-0.28,"fh":0.82,"fl":-0.6},
{"t":12050,"ch":0.45,"cl":-0.4,"nh":0.72,"nl":-0.6,"sh":0.28,"sl":-0.25,"fh":0.65,"fl":-0.58},
{"t":12100,"ch":0.62,"cl":-0.42,"nh":0.88,"nl":-0.62,"sh":0.32,"sl":-0.26,"fh":0.85,"fl":-0.6},
{"t":12150,"ch":0.45,"cl":-0.4,"nh":0.7,"nl":-0.6,"sh":0.26,"sl":-0.25,"fh":0.65,"fl":-0.55},
{"t":12200,"ch":0.62,"cl":-0.42,"nh":0.9,"nl":-0.62,"sh":0.3,"sl":-0.25,"fh":0.88,"fl":-0.6},
{"t":12250,"ch":0.45,"cl":-0.4,"nh":0.72,"nl":-0.6,"sh":0.25,"sl":-0.24,"fh":0.68,"fl":-0.58},
{"t":12300,"ch":0.6,"cl":-0.42,"nh":0.9,"nl":-0.6,"sh":0.28,"sl":-0.22,"fh":0.88,"fl":-0.58},
{"t":12350,"ch":0.45,"cl":-0.38,"nh":0.7,"nl":-0.58,"sh":0.24,"sl":-0.22,"fh":0.65,"fl":-0.55},
{"t":12400,"ch":0.58,"cl":-0.4,"nh":0.88,"nl":-0.6,"sh":0.26,"sl":-0.22,"fh":0.85,"fl":-0.56},
{"t":12450,"ch":0.42,"cl":-0.36,"nh":0.7,"nl":-0.55,"sh":0.22,"sl":-0.2,"fh":0.62,"fl":-0.52},
{"t":12500,"ch":0.52,"cl":-0.36,"nh":0.82,"nl":-0.58,"sh":0.22,"sl":-0.2,"fh":0.8,"fl":-0.52},
{"t":12550,"ch":0.4,"cl":-0.32,"nh":0.68,"nl":-0.55,"sh":0.2,"sl":-0.18,"fh":0.6,"fl":-0.48},
{"t":12600,"ch":0.5,"cl":-0.32,"nh":0.78,"nl":-0.55,"sh":0.22,"sl":-0.18,"fh":0.75,"fl":-0.48},
{"t":12650,"ch":0.35,"cl":-0.28,"nh":0.65,"nl":-0.52,"sh":0.18,"sl":-0.16,"fh":0.55,"fl":-0.42},
{"t":12700,"ch":0.4,"cl":-0.25,"nh":0.68,"nl":-0.5,"sh":0.18,"sl":-0.16,"fh":0.6,"fl":-0.4},
{"t":12750,"ch":0.25,"cl":-0.2,"nh":0.55,"nl":-0.5,"sh":0.15,"sl":-0.14,"fh":0.4,"fl":-0.32},
{"t":12800,"ch":0.22,"cl":-0.15,"nh":0.55,"nl":-0.45,"sh":0.15,"sl":-0.14,"fh":0.32,"fl":-0.25},
{"t":12850,"ch":0.1,"cl":-0.08,"nh":0.45,"nl":-0.42,"sh":0.13,"sl":-0.12,"fh":0.2,"fl":-0.16},
{"t":12900,"ch":0.05,"cl":-0.05,"nh":0.42,"nl":-0.38,"sh":0.12,"sl":-0.12,"fh":0.12,"fl":-0.1},
{"t":12950,"ch":0.04,"cl":-0.04,"nh":0.36,"nl":-0.45,"sh":0.14,"sl":-0.1,"fh":0.08,"fl":-0.08},
{"t":13000,"ch":0.03,"cl":-0.03,"nh":0.48,"nl":-0.36,"sh":0.11,"sl":-0.13,"fh":0.08,"fl":-0.07},
{"t":13050,"ch":0.03,"cl":-0.03,"nh":0.35,"nl":-0.42,"sh":0.13,"sl":-0.11,"fh":0.07,"fl":-0.06},
{"t":13100,"ch":0.03,"cl":-0.03,"nh":0.44,"nl":-0.38,"sh":0.12,"sl":-0.12,"fh":0.06,"fl":-0.06},
{"t":13150,"ch":0.03,"cl":-0.03,"nh":0.38,"nl":-0.46,"sh":0.1,"sl":-0.13,"fh":0.06,"fl":-0.06},
{"t":13200,"ch":0.03,"cl":-0.03,"nh":0.5,"nl":-0.36,"sh":0.13,"sl":-0.11,"fh":0.07,"fl":-0.06},
{"t":13250,"ch":0.03,"cl":-0.03,"nh":0.36,"nl":-0.42,"sh":0.12,"sl":-0.12,"fh":0.06,"fl":-0.06},
{"t":13300,"ch":0.03,"cl":-0.03,"nh":0.44,"nl":-0.38,"sh":0.11,"sl":-0.13,"fh":0.06,"fl":-0.06},
{"t":13350,"ch":0.03,"cl":-0.03,"nh":0.38,"nl":-0.5,"sh":0.13,"sl":-0.12,"fh":0.07,"fl":-0.07},
{"t":13400,"ch":0.03,"cl":-0.03,"nh":0.46,"nl":-0.36,"sh":0.12,"sl":-0.1,"fh":0.07,"fl":-0.06},
{"t":13450,"ch":0.04,"cl":-0.04,"nh":0.4,"nl":-0.42,"sh":0.14,"sl":-0.12,"fh":0.08,"fl":-0.08},
{"t":13500,"ch":0.05,"cl":-0.05,"nh":0.48,"nl":-0.4,"sh":0.15,"sl":-0.15,"fh":0.1,"fl":-0.1},
{"t":13550,"ch":0.15,"cl":-0.15,"nh":0.55,"nl":-0.5,"sh":0.22,"sl":-0.22,"fh":0.2,"fl":-0.2},
{"t":13600,"ch":0.75,"cl":-0.55,"nh":0.8,"nl":-0.65,"sh":0.4,"sl":-0.35,"fh":0.7,"fl":-0.5},
{"t":13650,"ch":0.6,"cl":-0.7,"nh":0.7,"nl":-0.7,"sh":0.35,"sl":-0.45,"fh":0.55,"fl":-0.6},
{"t":13700,"ch":0.95,"cl":-0.75,"nh":1.0,"nl":-0.75,"sh":0.45,"sl":-0.45,"fh":0.9,"fl":-0.6},
{"t":13750,"ch":0.7,"cl":-0.85,"nh":0.8,"nl":-0.8,"sh":0.4,"sl":-0.5,"fh":0.7,"fl":-0.65},
{"t":13800,"ch":0.9,"cl":-0.7,"nh":0.95,"nl":-0.7,"sh":0.45,"sl":-0.4,"fh":0.88,"fl":-0.6},
{"t":13850,"ch":0.65,"cl":-0.6,"nh":0.75,"nl":-0.7,"sh":0.35,"sl":-0.4,"fh":0.65,"fl":-0.55},
{"t":13900,"ch":0.85,"cl":-0.65,"nh":0.9,"nl":-0.65,"sh":0.38,"sl":-0.35,"fh":0.82,"fl":-0.55},
{"t":13950,"ch":0.5,"cl":-0.5,"nh":0.65,"nl":-0.6,"sh":0.3,"sl":-0.3,"fh":0.55,"fl":-0.45},
{"t":14000,"ch":0.35,"cl":-0.3,"nh":0.55,"nl":-0.5,"sh":0.25,"sl":-0.25,"fh":0.4,"fl":-0.35}
]},
"vconcat": [
{"width": 747, "height": 40, "title": "Clean Speech Signal", "data": {"name": "sig"},
 "resolve": {"axis": {"x": "independent", "y": "independent"}},
 "layer": [
  {"data": {"name": "core"}, "mark": {"type": "area", "fill": "#0000ff", "stroke": "#0000ff", "strokeWidth": 0.8},
   "encoding": {
    "x": {"field": "t", "type": "quantitative", "scale": {"domain": [0, 14000], "nice": false, "zero": false}, "axis": null},
    "y": {"field": "c1", "type": "quantitative", "scale": {"domain": [-2, 2], "nice": false}, "axis": null},
    "y2": {"field": "c2"}}},
  {"mark": {"type": "rule", "color": "#0000ff", "strokeWidth": 1},
   "encoding": {
    "x": {"field": "t", "type": "quantitative", "axis": {"orient": "bottom", "values": [2000,4000,6000,8000,10000,12000,14000], "format": "d", "offset": -3, "tickSize": 3, "domain": false, "labelPadding": 6, "title": "Time", "titlePadding": 4, "titleFontSize": 10, "titleFontWeight": "normal"}},
    "y": {"field": "ch", "type": "quantitative", "axis": {"orient": "left", "values": [-2, 0, 2], "offset": -3, "tickSize": 3, "domain": false, "labelPadding": 2, "title": null}},
    "y2": {"field": "cl"}}},
  {"mark": {"type": "rule", "opacity": 0},
   "encoding": {
    "x": {"field": "t", "type": "quantitative", "axis": {"orient": "top", "values": [2000,4000,6000,8000,10000,12000,14000], "offset": -3, "tickSize": 3, "domain": false, "labels": false, "title": null}},
    "y": {"field": "ch", "type": "quantitative", "axis": {"orient": "right", "values": [-2, 0, 2], "offset": -3, "tickSize": 3, "domain": false, "labels": false, "title": null}},
    "y2": {"field": "cl"}}}
 ]},
{"width": 747, "height": 40, "title": "Noised Speech Signal", "data": {"name": "sig"},
 "resolve": {"axis": {"x": "independent", "y": "independent"}},
 "layer": [
  {"data": {"name": "core"}, "mark": {"type": "area", "fill": "#0000ff", "stroke": "#0000ff", "strokeWidth": 0.8},
   "encoding": {
    "x": {"field": "t", "type": "quantitative", "scale": {"domain": [0, 14000], "nice": false, "zero": false}, "axis": null},
    "y": {"field": "n1", "type": "quantitative", "scale": {"domain": [-2, 2], "nice": false}, "axis": null},
    "y2": {"field": "n2"}}},
  {"mark": {"type": "rule", "color": "#0000ff", "strokeWidth": 1},
   "encoding": {
    "x": {"field": "t", "type": "quantitative", "axis": {"orient": "bottom", "values": [2000,4000,6000,8000,10000,12000,14000], "format": "d", "offset": -3, "tickSize": 3, "domain": false, "labelPadding": 6, "title": "Time", "titlePadding": 4, "titleFontSize": 10, "titleFontWeight": "normal"}},
    "y": {"field": "nh", "type": "quantitative", "axis": {"orient": "left", "values": [-2, 0, 2], "offset": -3, "tickSize": 3, "domain": false, "labelPadding": 2, "title": null}},
    "y2": {"field": "nl"}}},
  {"mark": {"type": "rule", "opacity": 0},
   "encoding": {
    "x": {"field": "t", "type": "quantitative", "axis": {"orient": "top", "values": [2000,4000,6000,8000,10000,12000,14000], "offset": -3, "tickSize": 3, "domain": false, "labels": false, "title": null}},
    "y": {"field": "nh", "type": "quantitative", "axis": {"orient": "right", "values": [-2, 0, 2], "offset": -3, "tickSize": 3, "domain": false, "labels": false, "title": null}},
    "y2": {"field": "nl"}}}
 ]},
{"width": 747, "height": 40, "title": "After filtering SS", "data": {"name": "sig"},
 "resolve": {"axis": {"x": "independent", "y": "independent"}},
 "layer": [
  {"data": {"name": "core"}, "mark": {"type": "area", "fill": "#0000ff", "stroke": "#0000ff", "strokeWidth": 0.8},
   "encoding": {
    "x": {"field": "t", "type": "quantitative", "scale": {"domain": [0, 14000], "nice": false, "zero": false}, "axis": null},
    "y": {"field": "s1", "type": "quantitative", "scale": {"domain": [-2, 2], "nice": false}, "axis": null},
    "y2": {"field": "s2"}}},
  {"mark": {"type": "rule", "color": "#0000ff", "strokeWidth": 1},
   "encoding": {
    "x": {"field": "t", "type": "quantitative", "axis": {"orient": "bottom", "values": [2000,4000,6000,8000,10000,12000,14000], "format": "d", "offset": -3, "tickSize": 3, "domain": false, "labelPadding": 6, "title": "Time", "titlePadding": 4, "titleFontSize": 10, "titleFontWeight": "normal"}},
    "y": {"field": "sh", "type": "quantitative", "axis": {"orient": "left", "values": [-2, 0, 2], "offset": -3, "tickSize": 3, "domain": false, "labelPadding": 2, "title": null}},
    "y2": {"field": "sl"}}},
  {"mark": {"type": "rule", "opacity": 0},
   "encoding": {
    "x": {"field": "t", "type": "quantitative", "axis": {"orient": "top", "values": [2000,4000,6000,8000,10000,12000,14000], "offset": -3, "tickSize": 3, "domain": false, "labels": false, "title": null}},
    "y": {"field": "sh", "type": "quantitative", "axis": {"orient": "right", "values": [-2, 0, 2], "offset": -3, "tickSize": 3, "domain": false, "labels": false, "title": null}},
    "y2": {"field": "sl"}}}
 ]},
{"width": 747, "height": 40, "title": "After filtering combined NN-SS", "data": {"name": "sig"},
 "resolve": {"axis": {"x": "independent", "y": "independent"}},
 "layer": [
  {"data": {"name": "core"}, "mark": {"type": "area", "fill": "#0000ff", "stroke": "#0000ff", "strokeWidth": 0.8},
   "encoding": {
    "x": {"field": "t", "type": "quantitative", "scale": {"domain": [0, 14000], "nice": false, "zero": false}, "axis": null},
    "y": {"field": "f1", "type": "quantitative", "scale": {"domain": [-2, 2], "nice": false}, "axis": null},
    "y2": {"field": "f2"}}},
  {"mark": {"type": "rule", "color": "#0000ff", "strokeWidth": 1},
   "encoding": {
    "x": {"field": "t", "type": "quantitative", "axis": {"orient": "bottom", "values": [2000,4000,6000,8000,10000,12000,14000], "format": "d", "offset": -3, "tickSize": 3, "domain": false, "labelPadding": 6, "title": "Time", "titlePadding": 4, "titleFontSize": 10, "titleFontWeight": "normal"}},
    "y": {"field": "fh", "type": "quantitative", "axis": {"orient": "left", "values": [-2, 0, 2], "offset": -3, "tickSize": 3, "domain": false, "labelPadding": 2, "title": null}},
    "y2": {"field": "fl"}}},
  {"mark": {"type": "rule", "opacity": 0},
   "encoding": {
    "x": {"field": "t", "type": "quantitative", "axis": {"orient": "top", "values": [2000,4000,6000,8000,10000,12000,14000], "offset": -3, "tickSize": 3, "domain": false, "labels": false, "title": null}},
    "y": {"field": "fh", "type": "quantitative", "axis": {"orient": "right", "values": [-2, 0, 2], "offset": -3, "tickSize": 3, "domain": false, "labels": false, "title": null}},
    "y2": {"field": "fl"}}}
 ]}
]
}
